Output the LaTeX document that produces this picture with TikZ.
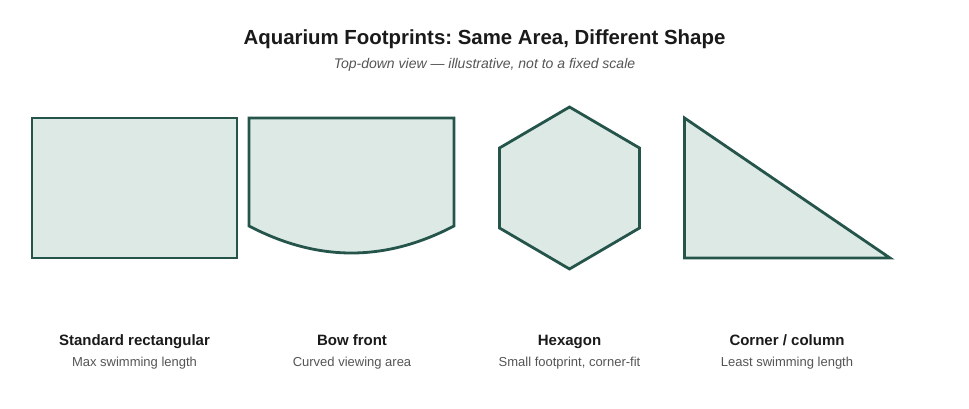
\documentclass[tikz,border=0pt]{standalone}
\usepackage{fontspec}
\setmainfont{Liberation Sans}
\frenchspacing
\definecolor{edge}{HTML}{24544A}
\definecolor{fillc}{HTML}{DDE9E4}
\definecolor{titlec}{HTML}{1A1A1A}
\definecolor{subc}{HTML}{555555}
\begin{document}
\begin{tikzpicture}[x=1pt,y=-1pt,
  shapeline/.style={draw=edge,fill=fillc,line width=2.8pt,line join=miter},
  titletext/.style={font=\bfseries\fontsize{20.4}{24}\selectfont,text=titlec,inner sep=0,anchor=base},
  subtitletext/.style={font=\itshape\fontsize{14}{17}\selectfont,text=subc,inner sep=0,anchor=base},
  nametext/.style={font=\bfseries\fontsize{15}{18}\selectfont,text=titlec,inner sep=0,anchor=base},
  desctext/.style={font=\fontsize{13}{16}\selectfont,text=subc,inner sep=0,anchor=base}]
\useasboundingbox[fill=white] (0,0) rectangle (969,409);
\node[titletext] (title) at (484.5,44.5) {Aquarium Footprints: Same Area, Different Shape};
\node[subtitletext] (subtitle) at (484.5,69) {Top-down view — illustrative, not to a fixed scale};
% shapes
\draw[shapeline] (32,118) -- (237,118) -- (237,258) -- (32,258) -- cycle;
\draw[shapeline] (249,118) -- (454,118) -- (454,226) .. controls (385,262) and (318,262) .. (249,226) -- cycle;
\draw[shapeline] (569.5,107) -- (639.5,148) -- (639.5,228) -- (569.5,269) -- (499.5,228) -- (499.5,148) -- cycle;
\draw[shapeline] (684.5,118) -- (890,258) -- (684.5,258) -- cycle;
% labels
\node[nametext] (n1) at (134.5,345) {Standard rectangular};
\node[desctext] (d1) at (134.5,366) {Max swimming length};
\node[nametext] (n2) at (352,345) {Bow front};
\node[desctext] (d2) at (352,366) {Curved viewing area};
\node[nametext] (n3) at (569.5,345) {Hexagon};
\node[desctext] (d3) at (569.5,366) {Small footprint, corner-fit};
\node[nametext] (n4) at (787,345) {Corner / column};
\node[desctext] (d4) at (787,366) {Least swimming length};
\end{tikzpicture}
\end{document}
